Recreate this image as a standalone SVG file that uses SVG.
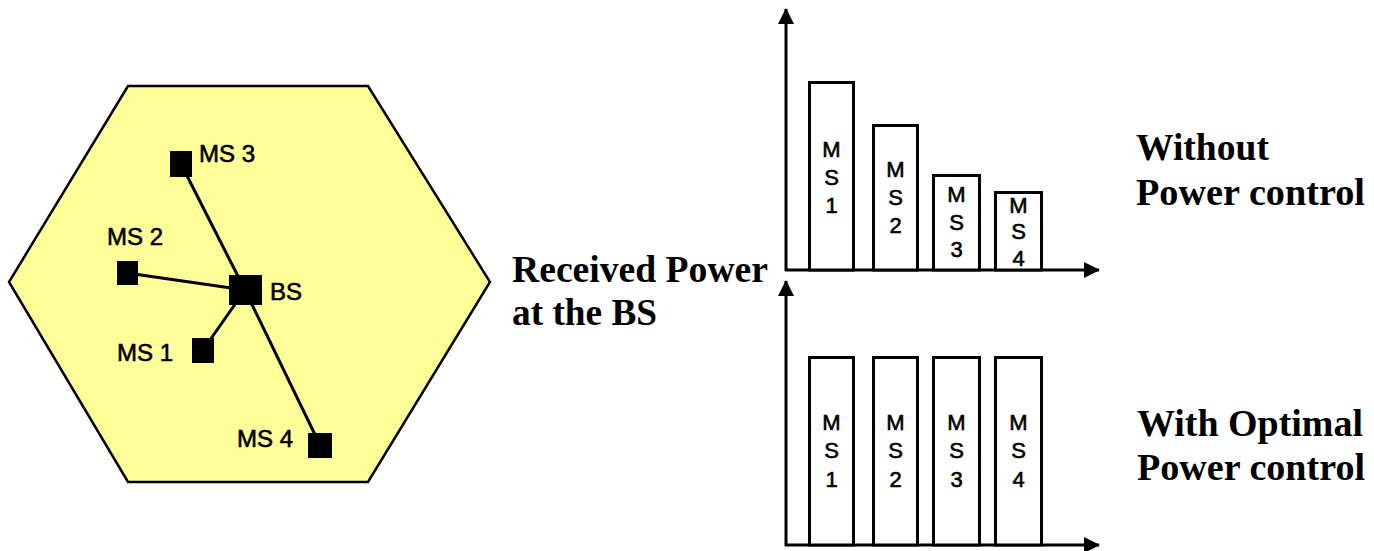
<svg xmlns="http://www.w3.org/2000/svg" width="1374" height="551" viewBox="0 0 1374 551">
<defs>
<style>
.hex{fill:#FFFF99;stroke:#000;stroke-width:2.5}
.sq{fill:#000}
.ln{stroke:#000;stroke-width:3;fill:none}
.lbl{font-family:"Liberation Sans",Arial,sans-serif;font-size:24px;fill:#000;stroke:#000;stroke-width:0.6}
.bar{fill:#fff;stroke:#000;stroke-width:3}
.bt{font-family:"Liberation Sans",Arial,sans-serif;font-size:22px;fill:#000;stroke:#000;stroke-width:0.6;text-anchor:middle}
.ax{stroke:#000;stroke-width:3;fill:none}
.big{font-family:"Liberation Serif","Times New Roman",serif;font-size:37px;font-weight:bold;fill:#000}
</style>
<marker id="arr" viewBox="0 0 16 16" refX="15" refY="8" markerWidth="16" markerHeight="16" markerUnits="userSpaceOnUse" orient="auto">
<path d="M0,0 L16,8 L0,16 Z" fill="#000"/>
</marker>
</defs>
<g id="cell">
<polygon class="hex" points="128,86 368,86 490,282 368,482 128,482 9,282"/>
</g>
<g id="connectors">
<line class="ln" x1="245" y1="290" x2="181" y2="164"/>
<line class="ln" x1="245" y1="290" x2="320" y2="445"/>
<line class="ln" x1="245" y1="290" x2="127" y2="273"/>
<line class="ln" x1="245" y1="290" x2="203" y2="350"/>
</g>
<g id="bs"><rect class="sq" x="229" y="275" width="33" height="30"/><text class="lbl" x="270" y="300">BS</text></g>
<g id="ms3"><rect class="sq" x="170" y="151" width="22" height="26"/><text class="lbl" x="199" y="162">MS 3</text></g>
<g id="ms2"><rect class="sq" x="117" y="261" width="21" height="24"/><text class="lbl" x="107" y="245">MS 2</text></g>
<g id="ms1"><rect class="sq" x="192" y="338" width="22" height="25"/><text class="lbl" x="117" y="361">MS 1</text></g>
<g id="ms4"><rect class="sq" x="308" y="433" width="24" height="25"/><text class="lbl" x="237" y="447">MS 4</text></g>

<g id="chart-top">
<line class="ax" x1="786" y1="271" x2="786" y2="9" marker-end="url(#arr)"/>
<line class="ax" x1="785" y1="270" x2="1099" y2="270" marker-end="url(#arr)"/>
<rect class="bar" x="809.5" y="82.5" width="44" height="187.5"/>
<rect class="bar" x="873.5" y="125.5" width="44" height="144.5"/>
<rect class="bar" x="933.5" y="175.5" width="46" height="94.5"/>
<rect class="bar" x="995.5" y="192.5" width="46" height="77.5"/>
<text class="bt"><tspan x="831.5" y="157">M</tspan><tspan x="831.5" y="185">S</tspan><tspan x="831.5" y="213">1</tspan></text>
<text class="bt"><tspan x="895.5" y="177">M</tspan><tspan x="895.5" y="205">S</tspan><tspan x="895.5" y="233">2</tspan></text>
<text class="bt"><tspan x="956.5" y="202">M</tspan><tspan x="956.5" y="230">S</tspan><tspan x="956.5" y="257">3</tspan></text>
<text class="bt"><tspan x="1018.5" y="213">M</tspan><tspan x="1018.5" y="239">S</tspan><tspan x="1018.5" y="266">4</tspan></text>
</g>

<g id="chart-bottom">
<line class="ax" x1="786" y1="546" x2="786" y2="281" marker-end="url(#arr)"/>
<line class="ax" x1="785" y1="545" x2="1099" y2="545" marker-end="url(#arr)"/>
<rect class="bar" x="809.5" y="357.5" width="44" height="187.5"/>
<rect class="bar" x="873.5" y="357.5" width="44" height="187.5"/>
<rect class="bar" x="933.5" y="357.5" width="46" height="187.5"/>
<rect class="bar" x="995.5" y="357.5" width="46" height="187.5"/>
<text class="bt"><tspan x="831.5" y="430">M</tspan><tspan x="831.5" y="458">S</tspan><tspan x="831.5" y="487">1</tspan></text>
<text class="bt"><tspan x="895.5" y="430">M</tspan><tspan x="895.5" y="458">S</tspan><tspan x="895.5" y="487">2</tspan></text>
<text class="bt"><tspan x="956.5" y="430">M</tspan><tspan x="956.5" y="458">S</tspan><tspan x="956.5" y="487">3</tspan></text>
<text class="bt"><tspan x="1018.5" y="430">M</tspan><tspan x="1018.5" y="458">S</tspan><tspan x="1018.5" y="487">4</tspan></text>
</g>

<g id="labels">
<text class="big" x="512" y="282" textLength="256" lengthAdjust="spacingAndGlyphs">Received Power</text>
<text class="big" x="512" y="325" textLength="145" lengthAdjust="spacingAndGlyphs">at the BS</text>
<text class="big" x="1136" y="160" textLength="133" lengthAdjust="spacingAndGlyphs">Without</text>
<text class="big" x="1136" y="205" textLength="229" lengthAdjust="spacingAndGlyphs">Power control</text>
<text class="big" x="1137" y="436" textLength="226" lengthAdjust="spacingAndGlyphs">With Optimal</text>
<text class="big" x="1137" y="480" textLength="228" lengthAdjust="spacingAndGlyphs">Power control</text>
</g>
</svg>
